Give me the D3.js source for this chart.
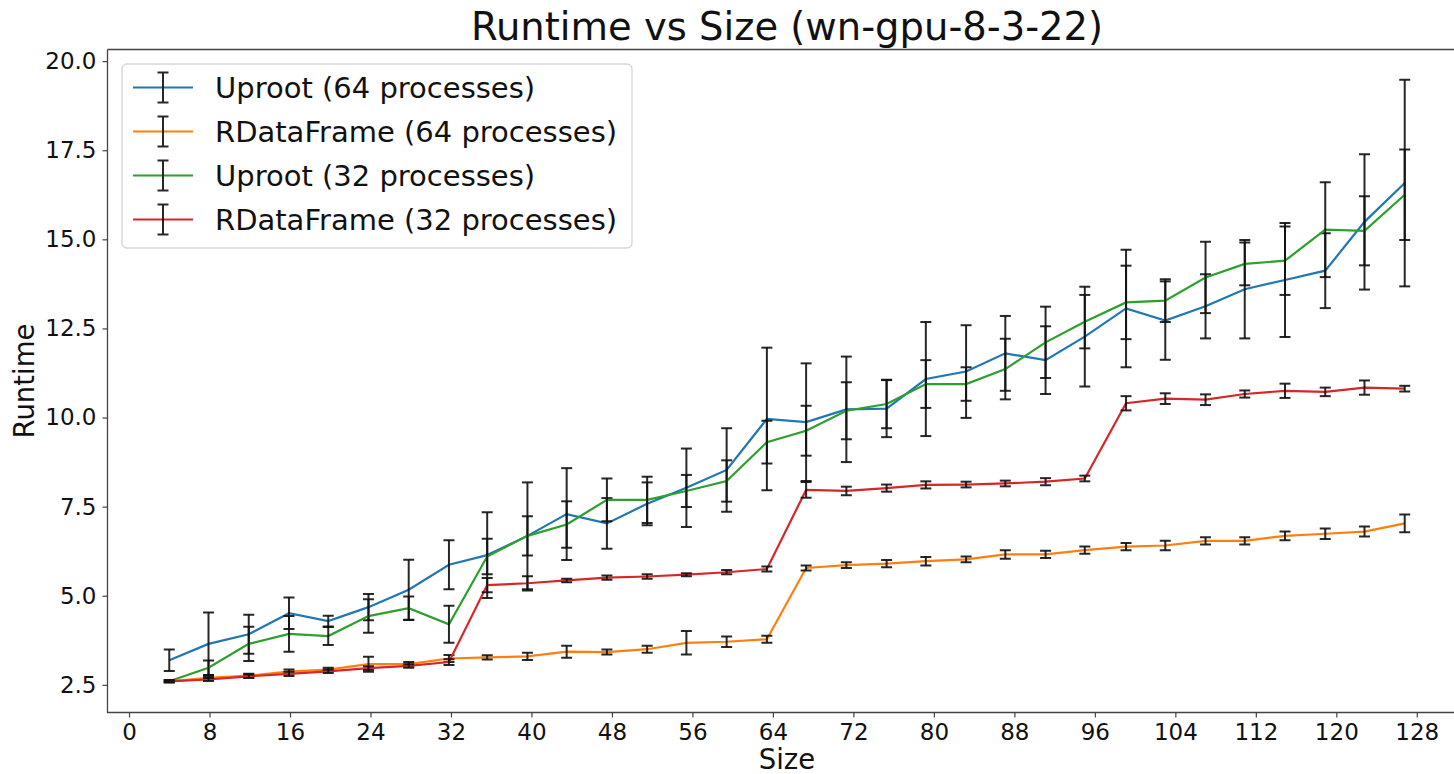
<!DOCTYPE html>
<html>
<head>
<meta charset="utf-8">
<title>Runtime vs Size</title>
<script src="https://cdn.jsdelivr.net/npm/d3@7"></script>
<style>
    body { margin: 0; background: #fff; }
    svg { display: block; font-family: "DejaVu Sans", sans-serif; }
</style>
</head>
<body>
<div id="chart"></div>
<script>
/*global d3 */

//values
var sizes = [4.0, 7.9, 11.9, 15.9, 19.8, 23.8, 27.8, 31.8, 35.6, 39.6,
             43.5, 47.5, 51.5, 55.4, 59.4, 63.4, 67.3, 71.3, 75.3, 79.2,
             83.2, 87.1, 91.1, 95.0, 99.1, 103.0, 107.0, 110.9, 114.9,
             118.9, 122.8, 126.8];

var uproot64 = [3.19, 3.65, 3.92, 4.51, 4.29, 4.68, 5.17, 5.87, 6.14, 6.68,
                7.29, 7.03, 7.58, 8.03, 8.53, 9.96, 9.87, 10.23, 10.25, 11.08,
                11.29, 11.80, 11.61, 12.27, 13.06, 12.72, 13.12, 13.60, 13.86,
                14.12, 15.49, 16.58];
var uproot64Err = [0.30, 0.88, 0.55, 0.44, 0.15, 0.37, 0.84, 0.69, 1.20, 1.50,
                   1.29, 0.71, 0.60, 1.10, 1.17, 2.00, 1.65, 1.48, 0.80, 1.60,
                   1.30, 1.05, 0.95, 1.40, 1.65, 1.10, 0.90, 1.38, 1.60,
                   1.05, 1.90, 2.90];

var rdf64 = [2.60, 2.70, 2.76, 2.87, 2.93, 3.08, 3.08, 3.24, 3.27, 3.30,
             3.43, 3.42, 3.50, 3.68, 3.71, 3.78, 5.78, 5.86, 5.90, 5.97,
             6.02, 6.16, 6.16, 6.28, 6.38, 6.41, 6.54, 6.54, 6.68,
             6.74, 6.80, 7.03];
var rdf64Err = [0.03, 0.04, 0.05, 0.06, 0.05, 0.21, 0.06, 0.10, 0.06, 0.10,
                0.17, 0.07, 0.10, 0.33, 0.15, 0.10, 0.07, 0.08, 0.10, 0.12,
                0.08, 0.12, 0.10, 0.10, 0.10, 0.13, 0.10, 0.10, 0.12,
                0.15, 0.14, 0.25];

var uproot32 = [2.60, 2.98, 3.65, 3.93, 3.87, 4.43, 4.65, 4.20, 6.10, 6.68,
                7.00, 7.69, 7.69, 7.94, 8.22, 9.31, 9.63, 10.19, 10.38, 10.94,
                10.94, 11.36, 12.11, 12.69, 13.23, 13.28, 13.93, 14.31, 14.40,
                15.27, 15.24, 16.25];
var uproot32Err = [0.03, 0.20, 0.48, 0.50, 0.25, 0.47, 0.33, 0.52, 0.50, 0.55,
                   0.65, 0.60, 0.65, 0.45, 0.58, 0.60, 0.70, 0.80, 0.68, 0.67,
                   0.47, 0.85, 1.00, 0.75, 1.03, 0.60, 1.00, 0.60, 0.96,
                   1.33, 0.97, 1.27];

var rdf32 = [2.60, 2.65, 2.74, 2.81, 2.88, 2.97, 3.03, 3.14, 5.30, 5.35,
             5.43, 5.51, 5.54, 5.59, 5.66, 5.75, 7.97, 7.94, 8.02, 8.11,
             8.12, 8.15, 8.20, 8.29, 10.40, 10.53, 10.50, 10.66, 10.75,
             10.72, 10.84, 10.81];
var rdf32Err = [0.03, 0.04, 0.05, 0.06, 0.05, 0.05, 0.05, 0.08, 0.20, 0.20,
                0.05, 0.06, 0.06, 0.04, 0.06, 0.07, 0.22, 0.12, 0.10, 0.10,
                0.08, 0.08, 0.10, 0.08, 0.20, 0.15, 0.15, 0.10, 0.20,
                0.12, 0.20, 0.08];

var seriesNames = ["Uproot (64 processes)", "RDataFrame (64 processes)",
                   "Uproot (32 processes)", "RDataFrame (32 processes)"];
var seriesColors = ["#1f77b4", "#ff7f0e", "#2ca02c", "#d62728"];
var xTicks = [0, 8, 16, 24, 32, 40, 48, 56, 64, 72, 80, 88, 96, 104, 112, 120, 128];
var yTicks = [2.5, 5.0, 7.5, 10.0, 12.5, 15.0, 17.5, 20.0];


var chart = (function () {
    "use strict";

    var ch; //chart state

    function buildSeries () {
        var vals = [uproot64, rdf64, uproot32, rdf32],
            errs = [uproot64Err, rdf64Err, uproot32Err, rdf32Err];
        return seriesNames.map(function (name, i) {
            return {name: name, color: seriesColors[i],
                    pts: sizes.map(function (s, j) {
                        return {x: s, y: vals[i][j], e: errs[i][j]}; })};
        });
    }

    //matplotlib style 5% padding around the data
    function paddedDomain (lo, hi) {
        var pad = (hi - lo) * 0.05;
        return [lo - pad, hi + pad];
    }

    function drawAxes () {
        var g = ch.plot, xa, ya;
        xa = g.append("g")
            .attr("transform", "translate(0," + ch.bottom + ")")
            .call(d3.axisBottom(ch.x).tickValues(xTicks)
                  .tickSize(5).tickPadding(6)
                  .tickFormat(d3.format("d")));
        ya = g.append("g")
            .attr("transform", "translate(" + ch.left + ",0)")
            .call(d3.axisLeft(ch.y).tickValues(yTicks)
                  .tickSize(5).tickPadding(6)
                  .tickFormat(d3.format(".1f")));
        [xa, ya].forEach(function (a) {
            a.select(".domain").remove();
            a.selectAll(".tick line").attr("stroke", "#444").attr("stroke-width", 1.2);
            a.selectAll(".tick text").attr("fill", "#111")
                .attr("font-size", 23).attr("font-family", "DejaVu Sans");
        });
        //spines (the right one falls outside the picture)
        g.append("path")
            .attr("d", "M" + ch.left + "," + ch.top + "V" + ch.bottom +
                  "H" + ch.right + "M" + ch.left + "," + ch.top + "H" + ch.right)
            .attr("fill", "none")
            .attr("stroke", "#444").attr("stroke-width", 1.3);
    }

    function drawSeries (s) {
        var g = ch.plot.append("g").attr("clip-path", "url(#plotclip)"),
            line = d3.line()
                .x(function (d) { return ch.x(d.x); })
                .y(function (d) { return ch.y(d.y); }),
            bars;
        g.append("path")
            .datum(s.pts)
            .attr("fill", "none")
            .attr("stroke", s.color)
            .attr("stroke-width", 2.2)
            .attr("d", line);
        bars = g.selectAll("g.ebar").data(s.pts).enter().append("g")
            .attr("class", "ebar")
            .attr("stroke", "#111")
            .attr("stroke-opacity", 0.9)
            .attr("stroke-width", 2);
        bars.append("line")
            .attr("x1", function (d) { return ch.x(d.x); })
            .attr("x2", function (d) { return ch.x(d.x); })
            .attr("y1", function (d) { return ch.y(d.y - d.e); })
            .attr("y2", function (d) { return ch.y(d.y + d.e); });
        [-1, 1].forEach(function (sign) {
            bars.append("line")
                .attr("x1", function (d) { return ch.x(d.x) - ch.cap; })
                .attr("x2", function (d) { return ch.x(d.x) + ch.cap; })
                .attr("y1", function (d) { return ch.y(d.y + sign * d.e); })
                .attr("y2", function (d) { return ch.y(d.y + sign * d.e); });
        });
    }

    function drawLegend () {
        var lg = ch.plot.append("g")
                .attr("transform", "translate(122,64)"),
            rows;
        lg.append("rect")
            .attr("width", 510).attr("height", 184)
            .attr("rx", 5).attr("ry", 5)
            .attr("fill", "#fff").attr("fill-opacity", 0.8)
            .attr("stroke", "#d6d6d6").attr("stroke-width", 1.3);
        rows = lg.selectAll("g.row").data(ch.series).enter().append("g")
            .attr("class", "row")
            .attr("transform", function (d, i) {
                return "translate(0," + (23.5 + i * 44) + ")"; });
        rows.append("line")
            .attr("x1", 11).attr("x2", 71).attr("y1", 0).attr("y2", 0)
            .attr("stroke", function (d) { return d.color; })
            .attr("stroke-width", 2.2);
        rows.append("path")
            .attr("d", "M41,-15V15M35.5,-15H46.5M35.5,15H46.5")
            .attr("fill", "none")
            .attr("stroke", "#111").attr("stroke-opacity", 0.9)
            .attr("stroke-width", 2);
        rows.append("text")
            .attr("x", 93).attr("y", 0).attr("dy", "0.36em")
            .attr("font-size", 29).attr("fill", "#111")
            .text(function (d) { return d.name; });
    }

    function display () {
        var svg, allLo, allHi;
        ch = {width: 1454, height: 774, left: 107.5, right: 1466.5,
              top: 49.5, bottom: 712.5, cap: 5.5};
        ch.series = buildSeries();
        svg = d3.select("#chart").append("svg")
            .attr("width", ch.width).attr("height", ch.height);
        allLo = d3.min(ch.series, function (s) {
            return d3.min(s.pts, function (d) { return d.y - d.e; }); });
        allHi = d3.max(ch.series, function (s) {
            return d3.max(s.pts, function (d) { return d.y + d.e; }); });
        ch.x = d3.scaleLinear()
            .domain(paddedDomain(d3.min(sizes), d3.max(sizes)))
            .range([ch.left, ch.right]);
        ch.y = d3.scaleLinear()
            .domain(paddedDomain(allLo, allHi))
            .range([ch.bottom, ch.top]);
        svg.append("defs").append("clipPath")
            .attr("id", "plotclip")
            .append("rect")
            .attr("x", ch.left).attr("y", ch.top)
            .attr("width", ch.right - ch.left)
            .attr("height", ch.bottom - ch.top);
        ch.plot = svg.append("g");
        ch.series.forEach(drawSeries);
        drawAxes();
        drawLegend();
        svg.append("text")
            .attr("x", (ch.left + ch.right) / 2).attr("y", 40)
            .attr("text-anchor", "middle")
            .attr("font-size", 38.5).attr("fill", "#111")
            .text("Runtime vs Size (wn-gpu-8-3-22)");
        svg.append("text")
            .attr("x", (ch.left + ch.right) / 2).attr("y", 769)
            .attr("text-anchor", "middle")
            .attr("font-size", 27.5).attr("fill", "#111")
            .text("Size");
        svg.append("text")
            .attr("transform", "translate(34," + (ch.top + ch.bottom) / 2 + ") rotate(-90)")
            .attr("text-anchor", "middle")
            .attr("font-size", 27.5).attr("fill", "#111")
            .text("Runtime");
    }

    return {
        display: function () { display(); }
    };
}());

chart.display();
</script>
</body>
</html>
